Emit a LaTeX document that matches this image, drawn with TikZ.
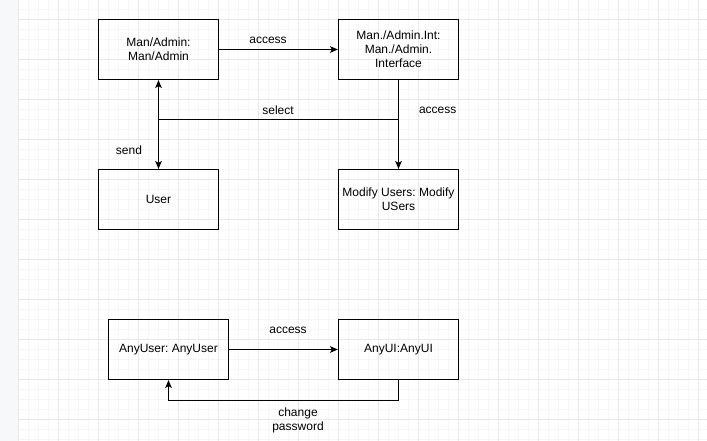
\documentclass[tikz,border=0pt]{standalone}
\usepackage{fontspec}
\setmainfont{Liberation Sans}
\usetikzlibrary{arrows.meta}
\frenchspacing
\definecolor{gridmajor}{HTML}{E8E8E8}
\definecolor{gridminor}{HTML}{F6F6F6}
\definecolor{strip}{HTML}{F7F8FA}
\tikzset{
  classbox/.style={draw=black,line width=0.9pt,minimum width=90pt,
    minimum height=45pt,align=center,inner sep=2pt,
    font=\fontsize{9}{10.5}\selectfont},
  arrow/.style={-{Stealth[length=6pt,width=5pt,inset=1.5pt]},line width=0.75pt},
  biarrow/.style={{Stealth[length=6pt,width=5pt,inset=1.5pt]}-{Stealth[length=6pt,width=5pt,inset=1.5pt]},
    line width=0.75pt},
  link/.style={line width=0.75pt},
  tag/.style={font=\fontsize{9}{10.5}\selectfont,align=center,inner sep=0pt}
}
\begin{document}
\begin{tikzpicture}[x=0.75pt,y=-0.75pt]
  \useasboundingbox (0,0) rectangle (707,441);
  % background grid
  \fill[white] (0,0) rectangle (707,441);
  \fill[strip] (0,0) rectangle (18,441);
  \foreach \i in {0,...,68}
    \draw[gridminor,line width=0.75pt] ({18.5+10*\i},0) -- ++(0,441);
  \foreach \i in {0,...,43}
    \draw[gridminor,line width=0.75pt] (18,{9.5+10*\i}) -- (707,{9.5+10*\i});
  \foreach \i in {0,...,17}
    \draw[gridmajor,line width=0.75pt] ({18.5+40*\i},0) -- ++(0,441);
  \foreach \i in {0,...,10}
    \draw[gridmajor,line width=0.75pt] (18,{19.5+40*\i}) -- (707,{19.5+40*\i});

  % upper diagram
  \node[classbox] (admin) at (158.5,49.5) {Man/Admin:\\Man/Admin};
  \node[classbox] (adminui) at (398.5,49.5) {Man./Admin.Int:\\Man./Admin.\\Interface};
  \node[classbox] (user) at (158.5,199.5) {User};
  \node[classbox] (modify) at (398.5,199.5) {Modify Users: Modify\\USers};
  \coordinate (sel) at (398.5,119.5);
  \draw[arrow] (admin) -- (adminui);
  \draw[biarrow] (admin) -- (user);
  \draw[arrow] (adminui) -- (modify);
  \draw[link] (admin |- sel) -- (sel);
  \node[tag] (lacc1) at (268,40) {access};
  \node[tag] (lsel) at (278,110) {select};
  \node[tag] (lacc2) at (437.7,110) {access};
  \node[tag] (lsend) at (129,150) {send};

  % lower diagram
  \node[classbox] (anyuser) at (168.5,349.5) {AnyUser: AnyUser};
  \node[classbox] (anyui) at (398.5,349.5) {AnyUI:AnyUI};
  \draw[arrow] (anyuser) -- (anyui);
  \draw[arrow] (anyui.south) -- ++(0,20) -| (anyuser.south);
  \node[tag] (lacc3) at (288,330) {access};
  \node[tag] (lpwd) at (298,420) {change\\password};
\end{tikzpicture}
\end{document}
